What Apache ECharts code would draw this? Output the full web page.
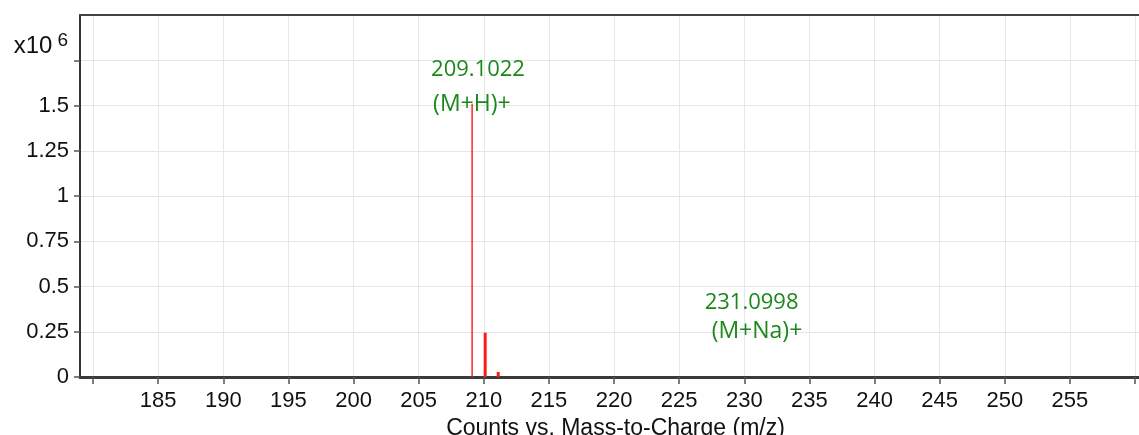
<!DOCTYPE html>
<html>
<head>
<meta charset="utf-8">
<script src="https://cdn.jsdelivr.net/npm/echarts@6/dist/echarts.min.js"></script>
<style>
html,body{margin:0;padding:0;background:#fff;}
#chart{width:1139px;height:435px;}
</style>
</head>
<body>
<div id="chart"></div>
<script>
// ---- data (intensities in units of 10^6 counts) ----
const mainPeakMz = [209.1022];
const mainPeakCounts = [1.51];
const isotopeMz = [210.1055, 211.108];
const isotopeCounts = [0.245, 0.028];
const adductMz = [231.0998];
const adductCounts = [0.002];
const annotationMz = [209.1022, 231.0998];
const annotationCounts = [1.51, 0.002];
const annotationValue = ['209.1022', '231.0998'];
const annotationIon = ['(M+H)+', '(M+Na)+'];
const xTickValues = [180,185,190,195,200,205,210,215,220,225,230,235,240,245,250,255,260];
const xLabelValues = [185,190,195,200,205,210,215,220,225,230,235,240,245,250,255];
const yTickValues = [0, 0.25, 0.5, 0.75, 1, 1.25, 1.5, 1.75];
const yLabelValues = [0, 0.25, 0.5, 0.75, 1, 1.25, 1.5];

const chart = echarts.init(document.getElementById('chart'));
const green = '#1a881a';
const labelFont = '"Open Sans", sans-serif';
const axisFont = '"Liberation Sans", Arial, sans-serif';

function stick(width) {
  return function (params, api) {
    const x = api.value(0), y = api.value(1);
    const p0 = api.coord([x, 0]);
    const p1 = api.coord([x, y]);
    return {
      type: 'rect',
      shape: { x: p0[0] - width / 2, y: p1[1], width: width, height: p0[1] - p1[1] },
      style: { fill: '#ff1a1a' }
    };
  };
}

const labelLayouts = [
  { offset: [-41, 18], lh: 34, pad: 2 },
  { offset: [-54, -31], lh: 28, pad: 7 }
];

const annotationData = annotationMz.map((mz, i) => ({
  value: [mz, annotationCounts[i]],
  label: {
    show: true,
    position: 'top',
    distance: 0,
    align: 'left',
    opacity: 1,
    offset: labelLayouts[i].offset,
    formatter: '{a|' + annotationValue[i] + '}\n{b|' + annotationIon[i] + '}',
    rich: {
      a: { fontSize: 22, lineHeight: labelLayouts[i].lh, color: green, fontFamily: labelFont },
      b: { fontSize: 23, lineHeight: labelLayouts[i].lh, color: green, fontFamily: labelFont, padding: [0, 0, 0, labelLayouts[i].pad] }
    }
  }
}));

const option = {
  animation: false,
  backgroundColor: '#fff',
  grid: { left: 80, right: 0, top: 15, bottom: 58, containLabel: false, outerBoundsMode: 'none' },
  xAxis: [{
    type: 'value',
    min: 179,
    max: 260.3,
    position: 'bottom',
    axisLine: { show: true, onZero: false, lineStyle: { color: '#3a3a3a', width: 3 } },
    axisTick: { show: true, customValues: xTickValues, length: 7, lineStyle: { color: '#555', width: 1.5 } },
    axisLabel: { customValues: xLabelValues, fontSize: 22, color: '#111', margin: 13, fontFamily: axisFont },
    splitLine: { show: true, lineStyle: { color: '#e6e6e6', width: 1 } },
    name: 'Counts vs. Mass-to-Charge (m/z)',
    nameLocation: 'middle',
    nameGap: 31,
    nameTextStyle: { fontSize: 23, color: '#111', fontFamily: axisFont, padding: [0, 0, 0, 12] }
  }, {
    type: 'value',
    min: 179,
    max: 260.3,
    position: 'top',
    axisLine: { show: true, onZero: false, lineStyle: { color: '#444', width: 2 } },
    axisTick: { show: false },
    axisLabel: { show: false },
    splitLine: { show: false }
  }],
  yAxis: {
    type: 'value',
    min: 0,
    max: 2,
    interval: 0.25,
    axisLine: { show: true, onZero: false, lineStyle: { color: '#333', width: 2 } },
    axisTick: { show: true, customValues: yTickValues, length: 6, lineStyle: { color: '#555', width: 1.5 } },
    axisLabel: {
      customValues: yLabelValues,
      fontSize: 22, color: '#111', margin: 11, fontFamily: axisFont
    },
    splitLine: { show: true, lineStyle: { color: '#e6e6e6', width: 1 } },
    name: '{a|x10}{s|6}',
    nameLocation: 'end',
    nameGap: -30,
    nameTextStyle: {
      align: 'right',
      verticalAlign: 'middle',
      padding: [0, 12, 0, 0],
      rich: {
        a: { fontSize: 24, color: '#111', fontFamily: axisFont, verticalAlign: 'bottom' },
        s: { fontSize: 19, color: '#111', fontFamily: axisFont, verticalAlign: 'bottom', padding: [0, 0, 8, 5] }
      }
    }
  },
  series: [
    {
      name: 'main', type: 'custom', xAxisIndex: 0, clip: true,
      renderItem: stick(1.4),
      data: mainPeakMz.map((mz, i) => [mz, mainPeakCounts[i]]),
      z: 3
    },
    {
      name: 'isotopes', type: 'custom', xAxisIndex: 0, clip: true,
      renderItem: stick(3),
      data: isotopeMz.map((mz, i) => [mz, isotopeCounts[i]]),
      z: 3
    },
    {
      name: 'adduct', type: 'custom', xAxisIndex: 0, clip: true,
      renderItem: stick(1.4),
      data: adductMz.map((mz, i) => [mz, adductCounts[i]]),
      z: 3
    },
    {
      name: 'annotations', type: 'scatter', xAxisIndex: 0,
      symbolSize: 1,
      itemStyle: { color: 'rgba(0,0,0,0)', opacity: 1 },
      data: annotationData,
      z: 4
    }
  ]
};
chart.setOption(option);
</script>
</body>
</html>
